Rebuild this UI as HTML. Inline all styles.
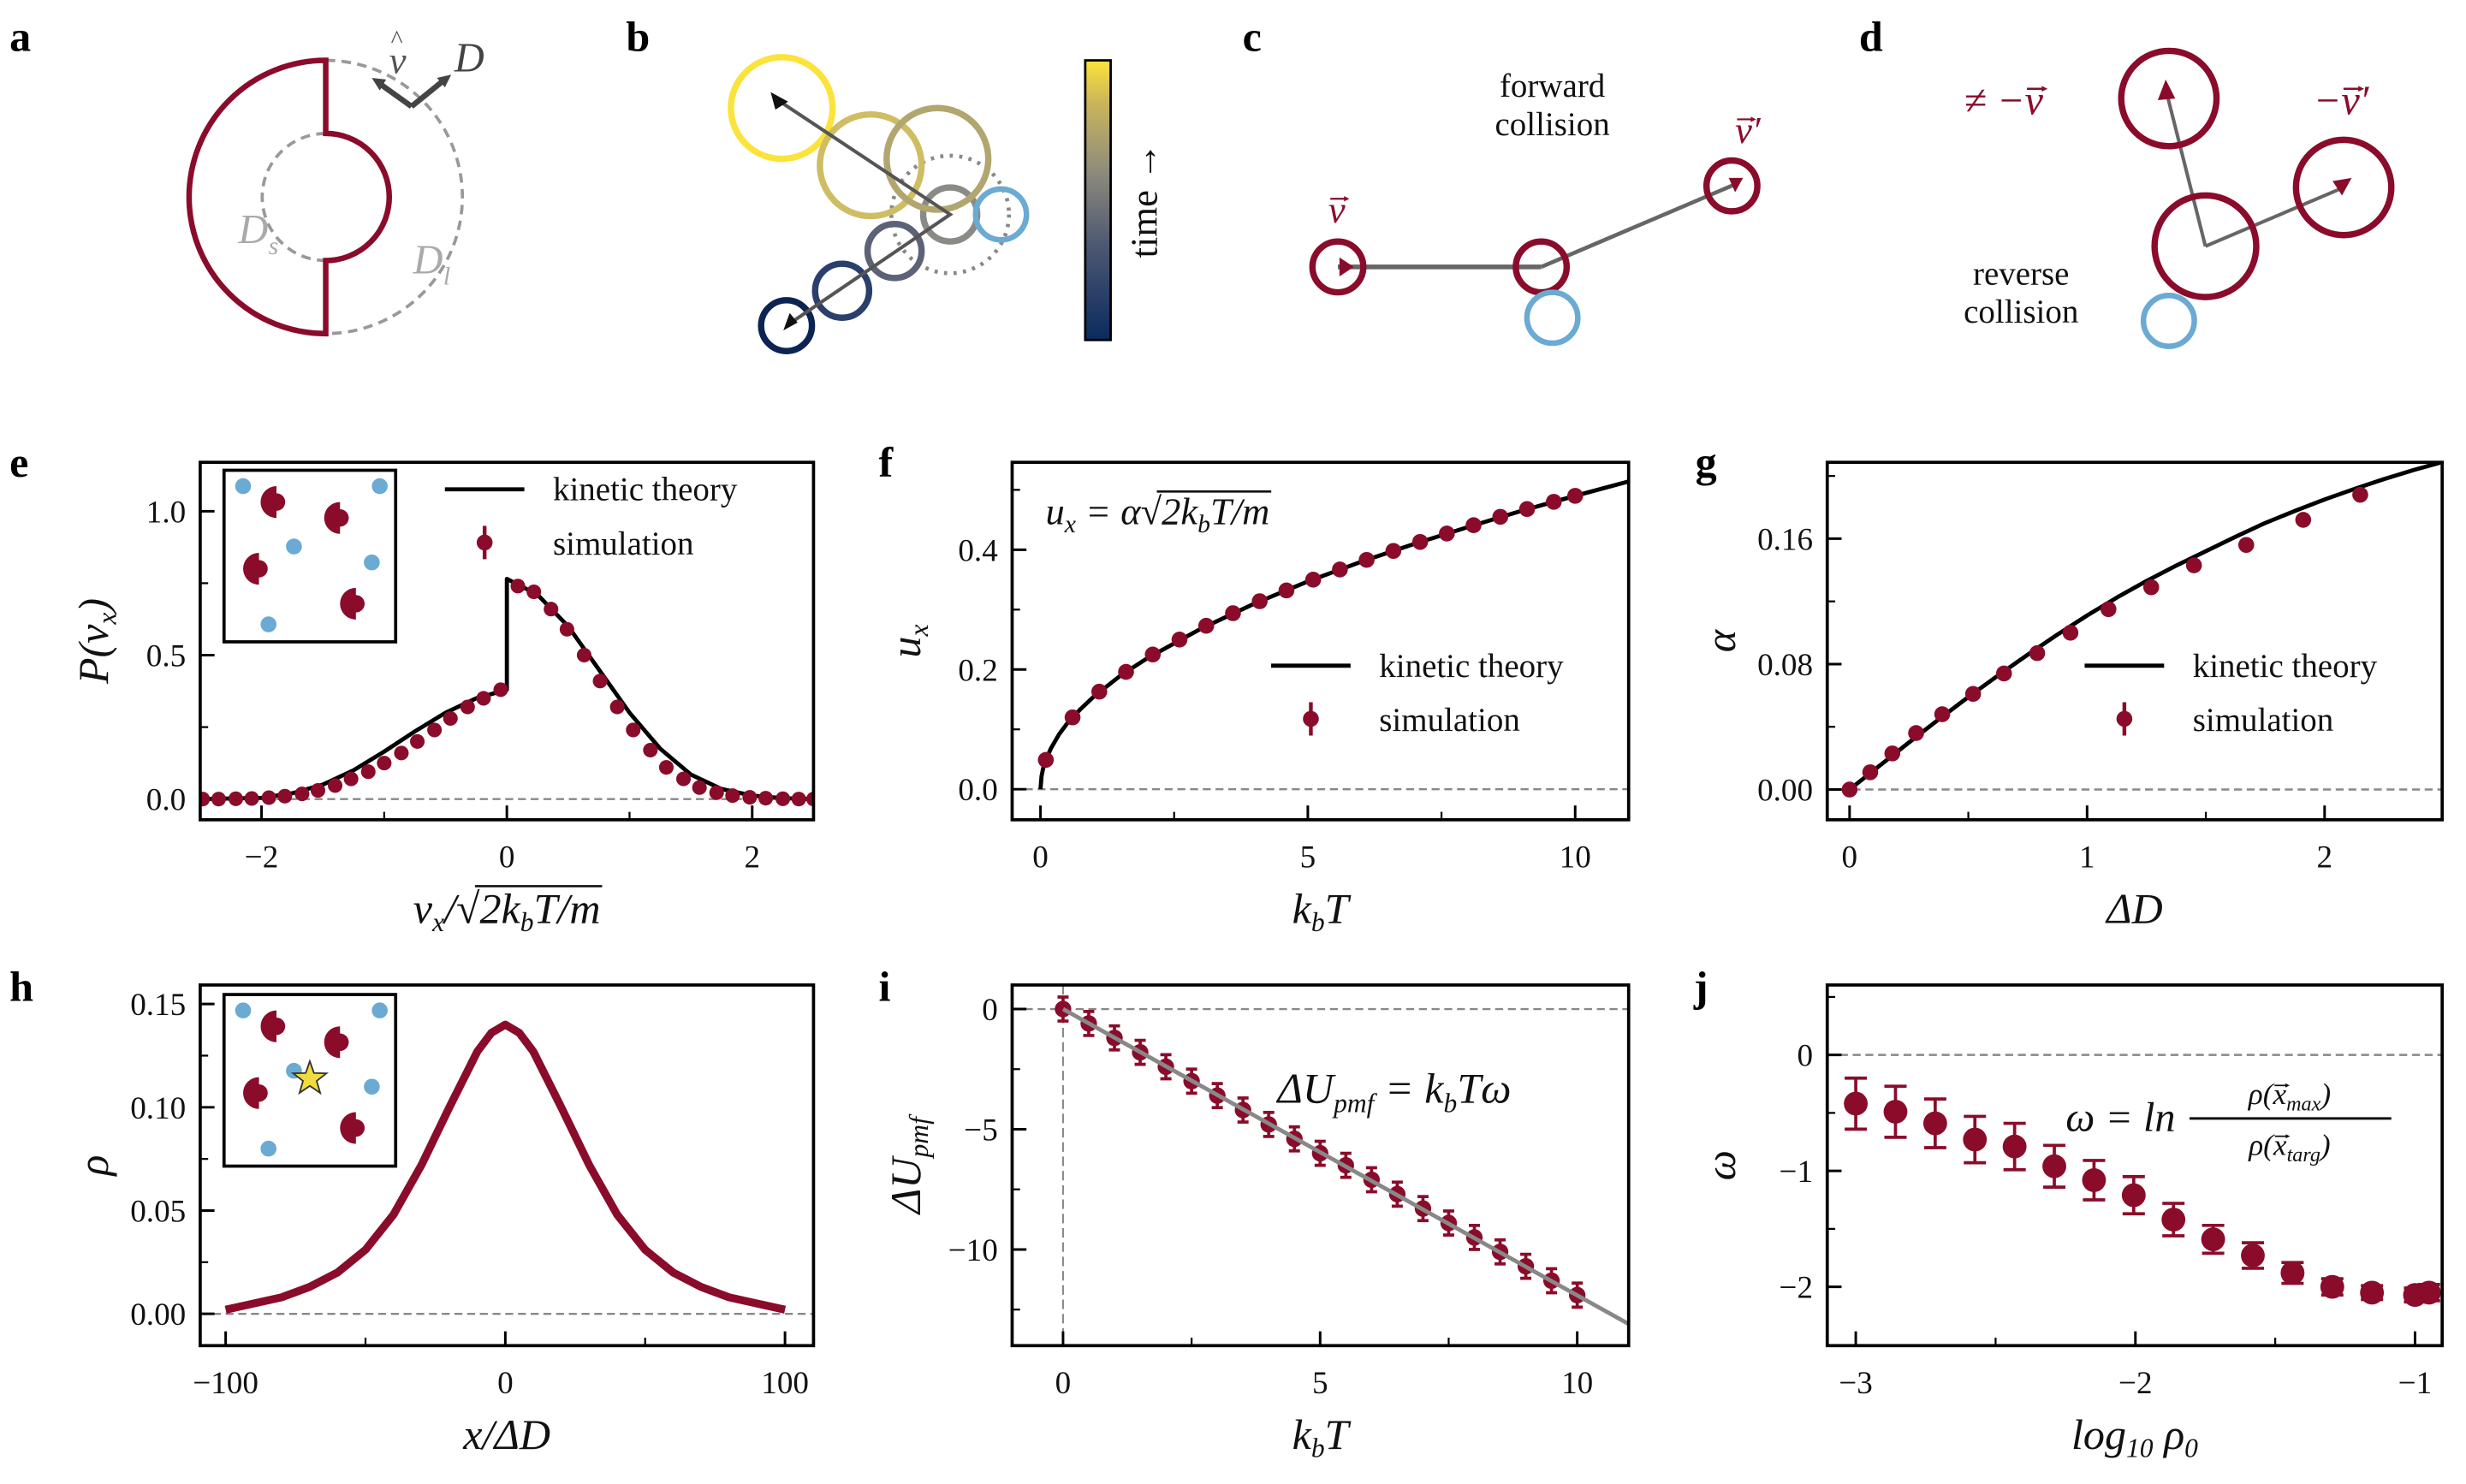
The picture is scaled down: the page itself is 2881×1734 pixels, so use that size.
<!DOCTYPE html>
<html><head><meta charset="utf-8">
<style>
html,body{margin:0;padding:0;background:#fff;}
svg, svg text, svg tspan{font-family:"Liberation Serif","Times New Roman","DejaVu Serif",serif;}
.tk{font-size:20px;fill:#111;}
.al{font-size:27px;font-style:italic;fill:#111;}
.pl{font-size:27px;font-weight:bold;fill:#000;}
.lg{font-size:21px;fill:#111;}
</style></head>
<body>
<svg id="fig" width="2881" height="1729" viewBox="0 0 1552 931.4" preserveAspectRatio="none" xmlns="http://www.w3.org/2000/svg">
<text class="pl" x="6" y="32">a</text>
<text class="pl" x="394" y="32">b</text>
<text class="pl" x="782" y="32">c</text>
<text class="pl" x="1170" y="32">d</text>
<text class="pl" x="6" y="300">e</text>
<text class="pl" x="553" y="300">f</text>
<text class="pl" x="1067" y="300">g</text>
<text class="pl" x="6" y="630">h</text>
<text class="pl" x="553" y="630">i</text>
<text class="pl" x="1066" y="630">j</text>

<g>
<path d="M205,124 m0,-40 a40,40 0 0 0 0,80" fill="none" stroke="#999" stroke-width="2" stroke-dasharray="6,4"/>
<path d="M205,38 a86,86 0 0 1 0,172" fill="none" stroke="#999" stroke-width="2" stroke-dasharray="6,4"/>
<path d="M205,38 a86,86 0 0 0 0,172 L205,164 a40,40 0 0 0 0,-80 Z" fill="none" stroke="#8a0c2a" stroke-width="3.5"/>
<path d="M259,67 L238,52 M259,67 L280,50" stroke="#444" stroke-width="3.5" fill="none"/>
<polygon points="234,49 243,50 239,57" fill="#444"/><polygon points="284,47 280,55 275,49" fill="#444"/>
<text x="245" y="46" font-size="24" font-style="italic" fill="#555">v</text>
<text x="246" y="30" font-size="16" fill="#555">^</text>
<text x="286" y="45" font-size="26" font-style="italic" fill="#444">D</text>
<text x="150" y="153" font-size="26" font-style="italic" fill="#aaa">D</text><text x="169" y="160" font-size="16" font-style="italic" fill="#aaa">s</text>
<text x="260" y="172" font-size="26" font-style="italic" fill="#aaa">D</text><text x="279" y="179" font-size="16" font-style="italic" fill="#aaa">l</text>
</g>

<defs>
<linearGradient id="cb" x1="0" y1="1" x2="0" y2="0">
<stop offset="0" stop-color="#0a2a5e"/><stop offset="0.35" stop-color="#4f5a73"/><stop offset="0.6" stop-color="#8e8b7c"/><stop offset="0.85" stop-color="#cbb55b"/><stop offset="1" stop-color="#fde33a"/>
</linearGradient>
</defs>
<g>
<circle cx="598" cy="135" r="37" fill="none" stroke="#888" stroke-width="2.5" stroke-dasharray="2,4"/>
<circle cx="492" cy="68" r="32" fill="none" stroke="#fbe33b" stroke-width="4"/>
<circle cx="548" cy="104" r="32" fill="none" stroke="#cfbd63" stroke-width="4"/>
<circle cx="563" cy="158" r="17" fill="none" stroke="#5c6277" stroke-width="4"/>
<circle cx="598" cy="135" r="17" fill="none" stroke="#8a8a86" stroke-width="4"/>
<circle cx="530" cy="183" r="17" fill="none" stroke="#2b3f6d" stroke-width="4"/>
<circle cx="495" cy="205" r="16" fill="none" stroke="#0b2452" stroke-width="4"/>
<circle cx="630" cy="135" r="16" fill="none" stroke="#6aaad3" stroke-width="3.5"/>
<circle cx="590" cy="100" r="32" fill="none" stroke="#b2a66f" stroke-width="4"/>
<polyline points="495,205 598,135 488,62" fill="none" stroke="#555" stroke-width="2.2"/>
<polygon points="485,58 496,64 488,69" fill="#111"/>
<polygon points="493,208 497,197 502,203" fill="#111"/>
<rect x="683" y="38" width="16" height="176" fill="url(#cb)" stroke="#000" stroke-width="1.5"/>
<text transform="translate(728,126) rotate(-90)" text-anchor="middle" font-size="24" fill="#111">time →</text>
</g>

<g>
<text x="977" y="61" text-anchor="middle" font-size="21" fill="#111">forward</text>
<text x="977" y="85" text-anchor="middle" font-size="21" fill="#111">collision</text>
<line x1="842" y1="168" x2="970" y2="168" stroke="#666" stroke-width="3"/>
<line x1="970" y1="168" x2="1092" y2="116" stroke="#666" stroke-width="2.5"/>
<circle cx="842" cy="168" r="16" fill="none" stroke="#8a0c2a" stroke-width="4"/>
<circle cx="970" cy="168" r="16" fill="none" stroke="#8a0c2a" stroke-width="4"/>
<circle cx="1090" cy="117" r="16" fill="none" stroke="#8a0c2a" stroke-width="4"/>
<circle cx="977" cy="200" r="16" fill="none" stroke="#6aaad3" stroke-width="3.5"/>
<polygon points="852,168 843,162 843,174" fill="#8a0c2a"/>
<polygon points="1097,112 1088,112 1092,121" fill="#8a0c2a"/>
<text class="vec" x="836" y="140" font-size="24" font-style="italic" fill="#8a0c2a">v</text>
<text class="vec" x="1092" y="90" font-size="24" font-style="italic" fill="#8a0c2a">v′</text>
</g>

<g>
<text x="1272" y="179" text-anchor="middle" font-size="21" fill="#111">reverse</text>
<text x="1272" y="203" text-anchor="middle" font-size="21" fill="#111">collision</text>
<line x1="1388" y1="155" x2="1364" y2="60" stroke="#666" stroke-width="2.2"/>
<line x1="1388" y1="155" x2="1475" y2="118" stroke="#666" stroke-width="2.2"/>
<circle cx="1365" cy="62" r="30" fill="none" stroke="#8a0c2a" stroke-width="4"/>
<circle cx="1475" cy="118" r="30" fill="none" stroke="#8a0c2a" stroke-width="4"/>
<circle cx="1388" cy="155" r="32" fill="none" stroke="#8a0c2a" stroke-width="4"/>
<circle cx="1365" cy="202" r="16" fill="none" stroke="#6aaad3" stroke-width="3.5"/>
<polygon points="1363,50 1358,63 1369,62" fill="#8a0c2a"/>
<polygon points="1480,112 1468,114 1474,123" fill="#8a0c2a"/>
<text class="vec" x="1236" y="72" font-size="26" font-style="italic" fill="#8a0c2a">≠ −v</text>
<text class="vec" x="1456" y="72" font-size="26" font-style="italic" fill="#8a0c2a">−v′</text>
</g>

<g id="charts"></g>
</svg>

<script>
// ---------- Data ----------
const eSimX = [-2.48,-2.35,-2.21,-2.08,-1.94,-1.81,-1.67,-1.54,-1.40,-1.27,-1.13,-1.00,-0.86,-0.73,-0.59,-0.46,-0.32,-0.19,-0.05,0.09,0.22,0.36,0.49,0.63,0.76,0.90,1.03,1.17,1.30,1.44,1.57,1.71,1.84,1.98,2.11,2.25,2.38,2.50];
const eSimY = [0,0,0.001,0.002,0.005,0.01,0.018,0.03,0.047,0.07,0.095,0.125,0.16,0.2,0.24,0.28,0.32,0.35,0.38,0.74,0.72,0.66,0.59,0.5,0.41,0.32,0.24,0.17,0.11,0.07,0.04,0.022,0.012,0.006,0.003,0.001,0,0];
const eTheoX = [-2.5,-2.0,-1.75,-1.5,-1.25,-1.0,-0.75,-0.5,-0.25,0.0,0.0,0.25,0.5,0.75,1.0,1.25,1.5,1.75,2.0,2.25,2.5];
const eTheoY = [0,0.004,0.02,0.05,0.1,0.165,0.235,0.3,0.35,0.38,0.765,0.71,0.6,0.45,0.3,0.175,0.085,0.035,0.012,0.003,0];
const eXTicks = [-2,0,2], eYTicks = [0.0,0.5,1.0];
const eXTickLabels = ["−2","0","2"], eYTickLabels = ["0.0","0.5","1.0"];
const fSimX = [0.1,0.6,1.1,1.6,2.1,2.6,3.1,3.6,4.1,4.6,5.1,5.6,6.1,6.6,7.1,7.6,8.1,8.6,9.1,9.6,10.0];
const fSimY = [0.049,0.12,0.163,0.196,0.225,0.25,0.273,0.294,0.314,0.332,0.35,0.367,0.383,0.398,0.413,0.427,0.441,0.455,0.468,0.48,0.49];
const fTheoX = [0,0.02,0.05,0.1,0.2,0.35,0.5,0.75,1,1.5,2,3,4,5,6,7,8,9,10,11];
const fTheoY = [0,0.022,0.035,0.049,0.069,0.092,0.11,0.134,0.155,0.19,0.219,0.268,0.31,0.347,0.38,0.41,0.438,0.465,0.49,0.514];
const fXTicks = [0,5,10], fYTicks = [0.0,0.2,0.4];
const fXTickLabels = ["0","5","10"], fYTickLabels = ["0.0","0.2","0.4"];
const gSimX = [0,0.087,0.18,0.28,0.39,0.52,0.65,0.79,0.93,1.09,1.27,1.45,1.67,1.91,2.15];
const gSimY = [0,0.011,0.023,0.036,0.048,0.061,0.074,0.087,0.1,0.115,0.129,0.143,0.156,0.172,0.188];
const gTheoX = [0,0.125,0.25,0.375,0.5,0.625,0.75,0.875,1.0,1.125,1.25,1.375,1.5,1.625,1.75,1.875,2.0,2.125,2.25,2.375,2.5];
const gTheoY = [0,0.015,0.030,0.0447,0.059,0.0727,0.086,0.0988,0.111,0.1224,0.133,0.1428,0.152,0.1612,0.170,0.1777,0.185,0.1917,0.198,0.2038,0.209];
const gXTicks = [0,1,2], gYTicks = [0,0.08,0.16];
const gXTickLabels = ["0","1","2"], gYTickLabels = ["0.00","0.08","0.16"];
const hX = [-100,-90,-80,-70,-60,-50,-40,-30,-20,-10,-5,0,5,10,20,30,40,50,60,70,80,90,100];
const hY = [0.002,0.005,0.008,0.013,0.02,0.031,0.048,0.072,0.1,0.127,0.136,0.14,0.136,0.127,0.1,0.072,0.048,0.031,0.02,0.013,0.008,0.005,0.002];
const hXTicks = [-100,0,100], hYTicks = [0,0.05,0.10,0.15];
const hXTickLabels = ["−100","0","100"], hYTickLabels = ["0.00","0.05","0.10","0.15"];
const iX = [0,0.5,1,1.5,2,2.5,3,3.5,4,4.5,5,5.5,6,6.5,7,7.5,8,8.5,9,9.5,10];
const iY = [0,-0.6,-1.2,-1.8,-2.4,-3.0,-3.6,-4.2,-4.8,-5.4,-6.0,-6.5,-7.1,-7.7,-8.3,-8.9,-9.5,-10.1,-10.7,-11.3,-11.9];
const iFitX = [0,11], iFitY = [0,-13.1];
const iXTicks = [0,5,10], iYTicks = [0,-5,-10];
const iXTickLabels = ["0","5","10"], iYTickLabels = ["0","−5","−10"];
const jX = [-3.0,-2.858,-2.716,-2.574,-2.432,-2.29,-2.148,-2.006,-1.864,-1.722,-1.58,-1.438,-1.296,-1.154,-1.0,-0.95];
const jY = [-0.42,-0.49,-0.59,-0.73,-0.79,-0.96,-1.08,-1.21,-1.42,-1.59,-1.73,-1.88,-2.0,-2.05,-2.07,-2.05];
const jErr = [0.22,0.22,0.21,0.2,0.2,0.18,0.17,0.16,0.14,0.12,0.11,0.09,0.07,0.06,0.06,0.07];
const jXTicks = [-3,-2,-1], jYTicks = [0,-1,-2];
const jXTickLabels = ["−3","−2","−1"], jYTickLabels = ["0","−1","−2"];

// ---------- Drawing ----------
const NS = "http://www.w3.org/2000/svg";
const root = document.getElementById('charts');
const RED = "#8a0c2a";
function mk(tag, attrs, parent){
  const el = document.createElementNS(NS, tag);
  for (const k in attrs) el.setAttribute(k, attrs[k]);
  (parent||root).appendChild(el);
  return el;
}
function arrowOver(t, idx, size, color){
  const p0 = t.getStartPositionOfChar(idx), p1 = t.getEndPositionOfChar(idx);
  const cx = (p0.x+p1.x)/2 + size*0.05, y = p0.y - size*0.62;
  const w = size*0.22;
  const par = t.parentNode;
  mk('line',{x1:cx-w,x2:cx+w,y1:y,y2:y,stroke:color,'stroke-width':size*0.05},par);
  mk('polygon',{points:`${cx+w+size*0.06},${y} ${cx+w-size*0.08},${y-size*0.07} ${cx+w-size*0.08},${y+size*0.07}`,fill:color},par);
}
function overline(t, i0, i1, size){
  const p0 = t.getStartPositionOfChar(i0), p1 = t.getEndPositionOfChar(i1);
  const y = p0.y - size*0.86;
  mk('line',{x1:p0.x-3,x2:p1.x+1,y1:y,y2:y,stroke:'#111','stroke-width':1.4},t.parentNode);
}
function makeAxes(name, box, xd, yd){
  const g = mk('g', {});
  
  
  const sx = v => box.x0 + (v - xd[0])/(xd[1]-xd[0])*(box.x1-box.x0);
  const sy = v => box.y1 - (v - yd[0])/(yd[1]-yd[0])*(box.y1-box.y0);
  return {g, sx, sy, box};
}
function frame(ax, xt, xl, yt, yl, xminor, yminor, xlabel, ylabel){
  const {g, sx, sy, box} = ax;
  xt.forEach((v,i)=>{
    const t = mk('line',{x1:sx(v),x2:sx(v),y1:box.y1,y2:box.y1-9,stroke:'#000','stroke-width':1.6},g);
    
    
    const lb = mk('text',{x:sx(v),y:box.y1+30,'text-anchor':'middle',class:'tk'},g);
    lb.textContent = xl[i];
    
    
  });
  xminor.forEach(v=>{ mk('line',{x1:sx(v),x2:sx(v),y1:box.y1,y2:box.y1-5,stroke:'#000','stroke-width':1.2},g); });
  yt.forEach((v,i)=>{
    const t = mk('line',{x1:box.x0,x2:box.x0+9,y1:sy(v),y2:sy(v),stroke:'#000','stroke-width':1.6},g);
    
    
    const lb = mk('text',{x:box.x0-9,y:sy(v)+7,'text-anchor':'end',class:'tk'},g);
    lb.textContent = yl[i];
    
    
  });
  yminor.forEach(v=>{ mk('line',{x1:box.x0,x2:box.x0+5,y1:sy(v),y2:sy(v),stroke:'#000','stroke-width':1.2},g); });
  const xa = mk('text',{x:(box.x0+box.x1)/2,y:box.y1+65,'text-anchor':'middle',class:'al'},g);
  xa.innerHTML = xlabel;
  
  
  const ya = mk('text',{transform:`translate(${box.x0-58},${(box.y0+box.y1)/2}) rotate(-90)`,'text-anchor':'middle',class:'al'},g);
  ya.innerHTML = ylabel;
  
  
  return xa;
}
function border(ax){
  const {g, box} = ax;
  const r = mk('rect',{x:box.x0,y:box.y0,width:box.x1-box.x0,height:box.y1-box.y0,fill:'none',stroke:'#000','stroke-width':2},g);
  
  
}
function zeroLine(ax){
  const {g, sy, box} = ax;
  const l = mk('line',{x1:box.x0,x2:box.x1,y1:sy(0),y2:sy(0),stroke:'#888','stroke-width':1.3,'stroke-dasharray':'5,3'},g);
  
  
}
function clip(ax, id){
  const {box} = ax;
  const d = mk('clipPath',{id:id});
  mk('rect',{x:box.x0,y:box.y0,width:box.x1-box.x0,height:box.y1-box.y0},d);
}
function line(ax, xs, ys, color, w, name, cid){
  const pts = xs.map((x,i)=>ax.sx(x).toFixed(2)+','+ax.sy(ys[i]).toFixed(2)).join(' ');
  const p = mk('polyline',{points:pts,fill:'none',stroke:color,'stroke-width':w,'stroke-linejoin':'round','clip-path':cid?`url(#${cid})`:''},ax.g);
  
  
}
function points(ax, xs, ys, r, errs, cap, name, cid){
  xs.forEach((x,i)=>{
    const cx = ax.sx(x), cy = ax.sy(ys[i]);
    if (errs){
      const e = errs[i];
      mk('line',{x1:cx,x2:cx,y1:ax.sy(ys[i]+e),y2:ax.sy(ys[i]-e),stroke:RED,'stroke-width':2,'clip-path':cid?`url(#${cid})`:''},ax.g);
      if (cap){
        mk('line',{x1:cx-cap,x2:cx+cap,y1:ax.sy(ys[i]+e),y2:ax.sy(ys[i]+e),stroke:RED,'stroke-width':2,'clip-path':cid?`url(#${cid})`:''},ax.g);
        mk('line',{x1:cx-cap,x2:cx+cap,y1:ax.sy(ys[i]-e),y2:ax.sy(ys[i]-e),stroke:RED,'stroke-width':2,'clip-path':cid?`url(#${cid})`:''},ax.g);
      }
    }
    const c = mk('circle',{cx:cx,cy:cy,r:r,fill:RED,'clip-path':cid?`url(#${cid})`:''},ax.g);
    
    
  });
}
function legend(ax, lx, ty){
  const g = mk('g',{},ax.g);
  
  
  mk('line',{x1:lx,x2:lx+50,y1:ty,y2:ty,stroke:'#000','stroke-width':2.6},g);
  const t1 = mk('text',{x:lx+68,y:ty+7,class:'lg'},g); t1.textContent='kinetic theory';
  
  
  mk('line',{x1:lx+25,x2:lx+25,y1:ty+23,y2:ty+44,stroke:RED,'stroke-width':2.4},g);
  mk('circle',{cx:lx+25,cy:ty+33.5,r:5,fill:RED},g);
  const t2 = mk('text',{x:lx+68,y:ty+41,class:'lg'},g); t2.textContent='simulation';
  
  
}
function inset(g, x0, y0, star){
  const ig = mk('g',{},g);
  
  
  mk('rect',{x:x0,y:y0,width:108,height:108,fill:'#fff',stroke:'#000','stroke-width':2},ig);
  const blue = [[12,10],[98,10],[44,48],[93,58],[28,97]];
  blue.forEach(p=>mk('circle',{cx:x0+p[0],cy:y0+p[1],r:5,fill:'#6aaad3'},ig));
  const red = [[33,20],[73,30],[22,62],[83,84]];
  red.forEach(p=>{
    const cx=x0+p[0], cy=y0+p[1];
    mk('path',{d:`M${cx},${cy-10} a10,10 0 0 0 0,20 Z M${cx},${cy-5.5} a5.5,5.5 0 0 1 0,11 Z`,fill:RED},ig);
  });
  if (star){
    const cx=x0+54, cy=y0+53, pts=[];
    for(let k=0;k<10;k++){const r=k%2?4.5:11;const a=-Math.PI/2+k*Math.PI/5;pts.push((cx+r*Math.cos(a)).toFixed(1)+','+(cy+r*Math.sin(a)).toFixed(1));}
    mk('polygon',{points:pts.join(' '),fill:'#f0dc3c',stroke:'#333','stroke-width':1},ig);
  }
}

document.querySelectorAll('text.vec').forEach(t=>{
  const s = t.textContent; const idx = s.indexOf('v');
  arrowOver(t, idx, parseFloat(t.getAttribute('font-size')), RED);
});

// e
{
  const ax = makeAxes('panel-e-velocity-distribution',{x0:126,x1:512,y0:291,y1:516},[-2.5,2.5],[-0.072,1.17]);
  clip(ax,'ce'); zeroLine(ax);
  const xa = frame(ax,eXTicks,eXTickLabels,eYTicks,eYTickLabels,[-1,1],[0.25,0.75],
    'v<tspan font-size="17" dy="5">x</tspan><tspan dy="-5">/√2k</tspan><tspan font-size="17" dy="5">b</tspan><tspan dy="-5">T/m</tspan>',
    'P(v<tspan font-size="17" dy="5">x</tspan><tspan dy="-5">)</tspan>');
  overline(xa,4,9,27);
  line(ax,eTheoX,eTheoY,'#000',2.6,'kinetic-theory-curve','ce');
  points(ax,eSimX,eSimY,4.6,null,0,'simulation-point','ce');
  border(ax); inset(ax.g,141,296,false); legend(ax,280,308);
}
// f
{
  const ax = makeAxes('panel-f-drift-velocity',{x0:637,x1:1025,y0:291,y1:516},[-0.53,11],[-0.051,0.546]);
  clip(ax,'cf'); zeroLine(ax);
  frame(ax,fXTicks,fXTickLabels,fYTicks,fYTickLabels,[2.5,7.5],[0.1,0.3,0.5],
    'k<tspan font-size="17" dy="5">b</tspan><tspan dy="-5">T</tspan>','u<tspan font-size="17" dy="5">x</tspan>');
  line(ax,fTheoX,fTheoY,'#000',2.6,'kinetic-theory-curve','cf');
  points(ax,fSimX,fSimY,5,fSimX.map(()=>0.012),0,'simulation-point','cf');
  border(ax); legend(ax,800,419);
  const t = mk('text',{x:658,y:330,'font-size':24,'font-style':'italic',fill:'#111'},ax.g);
  t.innerHTML='u<tspan font-size="16" dy="5">x</tspan><tspan dy="-5"> = α√2k</tspan><tspan font-size="16" dy="5">b</tspan><tspan dy="-5">T/m</tspan>';
  
  
  overline(t,7,12,24);
}
// g
{
  const ax = makeAxes('panel-g-alpha-vs-delta-d',{x0:1150,x1:1537,y0:291,y1:516},[-0.094,2.495],[-0.0193,0.2087]);
  clip(ax,'cg'); zeroLine(ax);
  frame(ax,gXTicks,gXTickLabels,gYTicks,gYTickLabels,[0.5,1.5],[0.04,0.12,0.2],'ΔD','α');
  line(ax,gTheoX,gTheoY,'#000',2.6,'kinetic-theory-curve','cg');
  points(ax,gSimX,gSimY,5,gSimX.map(()=>0.004),0,'simulation-point','cg');
  border(ax); legend(ax,1312,419);
}
// h
{
  const ax = makeAxes('panel-h-density-profile',{x0:126,x1:512,y0:620,y1:847},[-109.1,110.2],[-0.0154,0.1592]);
  clip(ax,'ch'); zeroLine(ax);
  frame(ax,hXTicks,hXTickLabels,hYTicks,hYTickLabels,[-50,50],[0.025,0.075,0.125],'x/ΔD','ρ');
  line(ax,hX,hY,RED,5,'density-curve','ch');
  border(ax); inset(ax.g,141,626,true);
}
// i
{
  const ax = makeAxes('panel-i-pmf-vs-temperature',{x0:637,x1:1025,y0:620,y1:847},[-0.99,11],[-14.0,1.0]);
  clip(ax,'ci'); zeroLine(ax);
  const v = mk('line',{x1:ax.sx(0),x2:ax.sx(0),y1:ax.box.y0,y2:ax.box.y1,stroke:'#888','stroke-width':1.1,'stroke-dasharray':'6,3'},ax.g);
  
  
  frame(ax,iXTicks,iXTickLabels,iYTicks,iYTickLabels,[2.5,7.5],[-2.5,-7.5,-12.5],
    'k<tspan font-size="17" dy="5">b</tspan><tspan dy="-5">T</tspan>','ΔU<tspan font-size="17" dy="5">pmf</tspan>');
  points(ax,iX,iY,5.2,iX.map(()=>0.5),3.5,'simulation-point','ci');
  line(ax,iFitX,iFitY,'#888',2.6,'linear-fit-line','ci');
  border(ax);
  const t = mk('text',{x:804,y:694,'font-size':27,'font-style':'italic',fill:'#111'},ax.g);
  t.innerHTML='ΔU<tspan font-size="17" dy="6">pmf</tspan><tspan dy="-6"> = k</tspan><tspan font-size="17" dy="6">b</tspan><tspan dy="-6">Tω</tspan>';
  
  
}
// j
{
  const ax = makeAxes('panel-j-omega-vs-density',{x0:1150,x1:1537,y0:620,y1:847},[-3.102,-0.903],[-2.507,0.603]);
  clip(ax,'cj'); zeroLine(ax);
  frame(ax,jXTicks,jXTickLabels,jYTicks,jYTickLabels,[-2.5,-1.5],[0.5,-0.5,-1.5],
    'log<tspan font-size="17" dy="5">10</tspan><tspan dy="-5"> ρ</tspan><tspan font-size="17" dy="5">0</tspan>','ω');
  points(ax,jX,jY,7.5,jErr,7,'simulation-point','cj');
  border(ax);
  const t = mk('text',{x:1300,y:712,'font-size':26,'font-style':'italic',fill:'#111'},ax.g);
  t.textContent='ω = ln';
  
  
  mk('line',{x1:1378,x2:1505,y1:704,y2:704,stroke:'#111','stroke-width':1.6},ax.g);
  const n = mk('text',{x:1441,y:695,'text-anchor':'middle','font-size':19,'font-style':'italic',fill:'#111'},ax.g);
  n.innerHTML='ρ(x<tspan font-size="13" dy="4">max</tspan><tspan dy="-4">)</tspan>';
  arrowOver(n,2,19,'#111');
  const dd = mk('text',{x:1441,y:727,'text-anchor':'middle','font-size':19,'font-style':'italic',fill:'#111'},ax.g);
  dd.innerHTML='ρ(x<tspan font-size="13" dy="4">targ</tspan><tspan dy="-4">)</tspan>';
  arrowOver(dd,2,19,'#111');
}
</script>
</body></html>
